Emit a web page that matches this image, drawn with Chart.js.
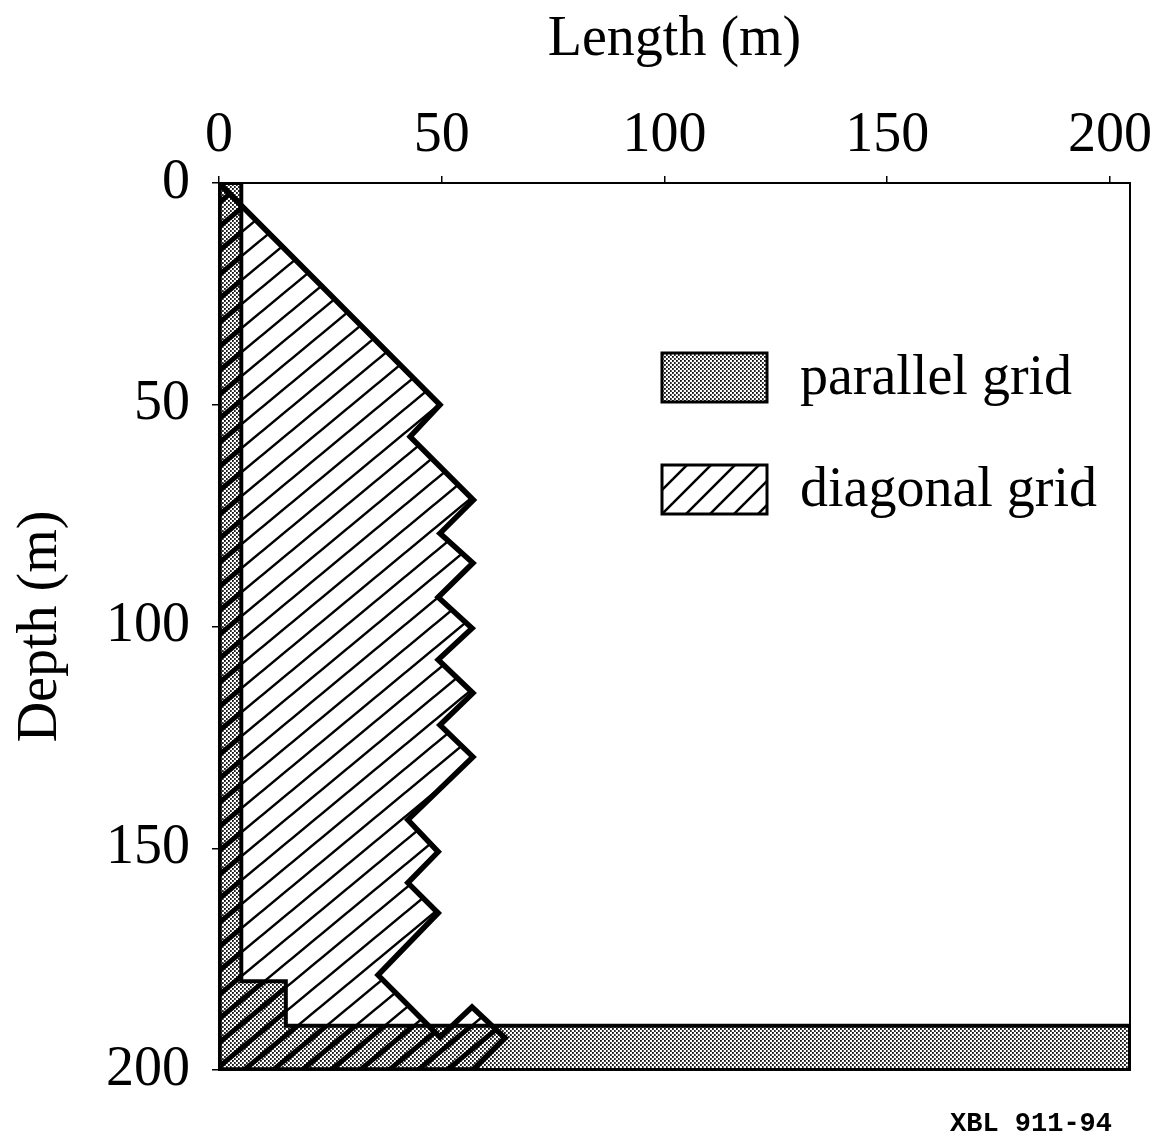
<!DOCTYPE html>
<html>
<head>
<meta charset="utf-8">
<title>Grid length vs depth</title>
<script src="https://cdn.jsdelivr.net/npm/chart.js@4/dist/chart.umd.min.js"></script>
<style>
  html, body { margin: 0; padding: 0; background: #fff; }
  canvas { display: block; }
</style>
</head>
<body>
<canvas id="chart" width="1161" height="1138"></canvas>
<script>
// Outline of the parallel-grid region: length (m) and depth (m) of each corner
const parallelLength = [0, 5, 5, 15, 15, 204.5, 204.5, 0, 0];
const parallelDepth  = [0, 0, 180, 180, 190, 190, 200, 200, 0];

// Outline of the diagonal-grid region
const diagonalLength = [0, 49.6, 42.9, 57.1, 49.6, 57, 49.2, 56.8, 49.2, 57, 49.6, 57,
                        42.4, 49.2, 42.4, 49.2, 35.7, 49.6, 56.8, 64.2, 57, 0, 0];
const diagonalDepth  = [0, 50, 57.2, 71.5, 79, 85.7, 93.4, 100.4, 107.5, 115, 122.2, 129.4,
                        143.6, 150.8, 157.8, 164.6, 178.6, 192.6, 185.8, 192.8, 200, 200, 0];

const seriesLabels = ['parallel grid', 'diagonal grid'];
const lengthTicks = [0, 50, 100, 150, 200];
const depthTicks = [0, 50, 100, 150, 200];
const lengthMax = 204.5;
const depthMax = 200;

const canvas = document.getElementById('chart');
const ctx = canvas.getContext('2d');

// Fine dot screen used for the parallel grid
function stipple() {
  const c = document.createElement('canvas');
  c.width = 4; c.height = 4;
  const g = c.getContext('2d');
  g.fillStyle = '#000';
  [[0.9, 0.9], [2.9, 2.9]].forEach(([x, y]) => {
    g.beginPath(); g.arc(x, y, 1.0, 0, Math.PI * 2); g.fill();
  });
  return ctx.createPattern(c, 'repeat');
}

// Rising diagonal hatch; w x h is one repeat of the line lattice
function hatch(w, h, lw) {
  const c = document.createElement('canvas');
  c.width = w; c.height = h;
  const g = c.getContext('2d');
  g.strokeStyle = '#000';
  g.lineWidth = lw;
  [[0, 0], [0, h], [w, h]].forEach(([ox, oy]) => {
    g.beginPath(); g.moveTo(ox - w, oy + h); g.lineTo(ox + w, oy - h); g.stroke();
  });
  return ctx.createPattern(c, 'repeat');
}

const dotFill = stipple();
const hatchFill = hatch(29, 24, 2.5);
const hatchSwatch = hatch(24, 24, 2.5);
const hatchHeavy = hatch(29, 24, 5);

const toPoints = (xs, ys) => xs.map((x, i) => ({ x, y: ys[i] }));

const serif = 'Liberation Serif, Times New Roman, serif';

// Where both grids occupy the same cells the hatch reads heavier
const overlapShade = {
  id: 'overlapShade',
  afterDatasetsDraw(chart) {
    const a = chart.getDatasetMeta(0).data;
    const b = chart.getDatasetMeta(1).data;
    const ca = chart.chartArea;
    const c = chart.ctx;
    const trace = pts => {
      c.beginPath();
      pts.forEach((p, i) => (i ? c.lineTo(p.x, p.y) : c.moveTo(p.x, p.y)));
      c.closePath();
    };
    c.save();
    c.beginPath(); c.rect(ca.left, ca.top, ca.right - ca.left, ca.bottom - ca.top); c.clip();
    trace(a); c.clip();
    trace(b); c.clip();
    c.fillStyle = hatchHeavy;
    c.fillRect(ca.left, ca.top, ca.right - ca.left, ca.bottom - ca.top);
    c.restore();
  }
};

// Closing frame on the right and bottom of the plot
const frame = {
  id: 'frame',
  afterDraw(chart) {
    const { ctx: c, chartArea: ca } = chart;
    c.save();
    c.strokeStyle = '#000';
    c.lineWidth = 2;
    c.strokeRect(ca.left, ca.top, ca.right - ca.left, ca.bottom - ca.top);
    c.restore();
  }
};

// Swatch legend placed inside the plot
const legendPanel = {
  id: 'legendPanel',
  afterDraw(chart, args, o) {
    const c = chart.ctx;
    chart.data.datasets.forEach((ds, i) => {
      const x = chart.chartArea.left + o.left;
      const y = chart.chartArea.top + o.top + i * o.step;
      c.save();
      c.fillStyle = '#fff';
      c.fillRect(x, y, o.boxWidth, o.boxHeight);
      c.fillStyle = ds.swatch || ds.backgroundColor;
      c.fillRect(x, y, o.boxWidth, o.boxHeight);
      c.lineWidth = 3;
      c.strokeStyle = '#000';
      c.strokeRect(x, y, o.boxWidth, o.boxHeight);
      c.fillStyle = '#000';
      c.font = '56px ' + serif;
      c.textBaseline = 'alphabetic';
      c.textAlign = 'left';
      c.fillText(ds.label, x + o.boxWidth + o.gap, y + o.boxHeight + o.baseline);
      c.restore();
    });
  }
};

// Drawing reference number
const stamp = {
  id: 'stamp',
  afterDraw(chart, args, o) {
    const c = chart.ctx;
    c.save();
    c.fillStyle = '#000';
    c.font = 'bold 27px Liberation Mono, Courier New, monospace';
    c.textAlign = 'right';
    c.textBaseline = 'alphabetic';
    c.fillText(o.text, o.x, o.y);
    c.restore();
  }
};

new Chart(ctx, {
  type: 'line',
  data: {
    datasets: [
      {
        label: seriesLabels[0],
        data: toPoints(parallelLength, parallelDepth),
        backgroundColor: dotFill,
        borderColor: '#000',
        borderWidth: 4,
        fill: 'shape',
        pointRadius: 0,
        tension: 0,
        borderJoinStyle: 'miter'
      },
      {
        label: seriesLabels[1],
        data: toPoints(diagonalLength, diagonalDepth),
        backgroundColor: hatchFill,
        swatch: hatchSwatch,
        borderColor: '#000',
        borderWidth: 5.5,
        fill: 'shape',
        pointRadius: 0,
        tension: 0,
        borderJoinStyle: 'miter'
      }
    ]
  },
  options: {
    responsive: false,
    animation: false,
    devicePixelRatio: 1,
    layout: { padding: { left: 0, top: 0, right: 31, bottom: 68 } },
    plugins: {
      legend: { display: false },
      tooltip: { enabled: false },
      legendPanel: { left: 443, top: 170, step: 112, boxWidth: 105, boxHeight: 49, gap: 33, baseline: -8 },
      stamp: { text: 'XBL 911-94', x: 1112, y: 1131 }
    },
    scales: {
      x: {
        type: 'linear',
        position: 'top',
        min: 0,
        max: lengthMax,
        afterFit: s => { s.height = 183; },
        afterBuildTicks: s => { s.ticks = lengthTicks.map(v => ({ value: v })); },
        ticks: { color: '#000', padding: 6, font: { family: serif, size: 56 } },
        grid: { drawOnChartArea: false, drawTicks: true, tickLength: 7, color: '#000', lineWidth: 1.5 },
        border: { color: '#000', width: 2 },
        title: {
          display: true, text: 'Length (m)', color: '#000',
          font: { family: serif, size: 56, lineHeight: 1 }, padding: { top: 12, bottom: 0 }
        }
      },
      y: {
        type: 'linear',
        position: 'left',
        reverse: true,
        min: 0,
        max: depthMax,
        afterFit: s => { s.width = 219; },
        afterBuildTicks: s => { s.ticks = depthTicks.map(v => ({ value: v })); },
        ticks: { color: '#000', padding: 22, font: { family: serif, size: 56 } },
        grid: { drawOnChartArea: false, drawTicks: true, tickLength: 7, color: '#000', lineWidth: 1.5 },
        border: { color: '#000', width: 2 },
        title: {
          display: true, text: 'Depth (m)', color: '#000',
          font: { family: serif, size: 56, lineHeight: 1 }, padding: { top: 13, bottom: 0 }
        }
      }
    }
  },
  plugins: [overlapShade, frame, legendPanel, stamp]
});
</script>
</body>
</html>
